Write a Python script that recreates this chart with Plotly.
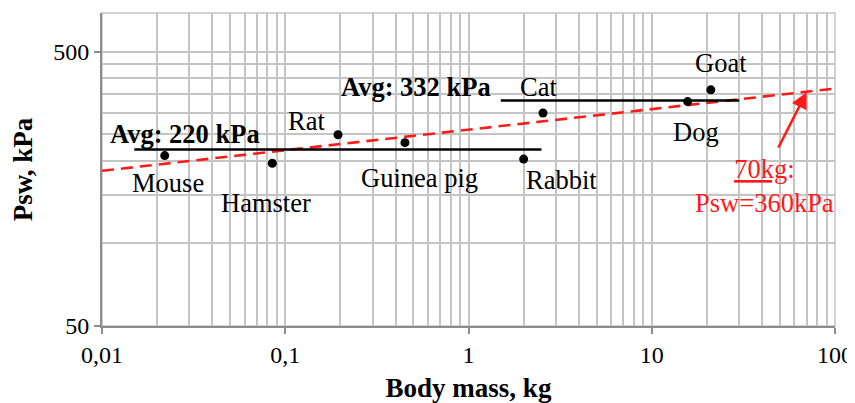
import plotly.graph_objects as go
import math

# ---- data ----
animals = ["Mouse", "Hamster", "Rat", "Guinea pig", "Rabbit", "Cat", "Dog", "Goat"]
body_mass_kg = [0.022, 0.085, 0.194, 0.45, 2.0, 2.55, 15.7, 21.0]
psw_kpa = [209, 196, 249, 233, 203, 299, 329, 363]

avg_small_x = [0.015, 2.5]
avg_small_y = [220, 220]
avg_large_x = [1.5, 30]
avg_large_y = [332, 332]

trend_x = [0.01, 100]
trend_y = [184, 367]

point_70kg = (70, 356)

x_tickvals = [0.01, 0.1, 1, 10, 100]
x_ticktext = ["0,01", "0,1", "1", "10", "100"]
y_tickvals = [50, 500]
y_ticktext = ["50", "500"]
y_minor = [100, 150, 200, 250, 300, 350, 400, 450]
x_minor = [m * d for d in [0.01, 0.1, 1, 10] for m in range(2, 10)]

# label offsets (pixels) relative to points
label_dx = [3, -6, -31, 15, 38, -5, 8, 10]
label_dy = [-27, -40, 14, -35, -21, 26, -30, 27]

FONT = "Liberation Serif, Times New Roman, serif"
GRID = "#c4c4c4"
AXIS = "#8c8c8c"
LBL = 26.5

fig = go.Figure()

fig.add_trace(go.Scatter(x=trend_x, y=trend_y, mode="lines",
                         line=dict(color="#ff1a1a", width=2.6, dash="12px,7px"),
                         hoverinfo="skip", showlegend=False))
fig.add_trace(go.Scatter(x=avg_small_x, y=avg_small_y, mode="lines",
                         line=dict(color="black", width=2.5), showlegend=False))
fig.add_trace(go.Scatter(x=avg_large_x, y=avg_large_y, mode="lines",
                         line=dict(color="black", width=2.5), showlegend=False))
fig.add_trace(go.Scatter(x=body_mass_kg, y=psw_kpa, mode="markers",
                         marker=dict(color="black", size=9), showlegend=False))

for name, x, y, dx, dy in zip(animals, body_mass_kg, psw_kpa, label_dx, label_dy):
    fig.add_annotation(x=math.log10(x), y=math.log10(y), text=name, showarrow=False,
                       xshift=dx, yshift=dy, font=dict(family=FONT, size=LBL, color="black"))

fig.add_annotation(x=math.log10(avg_small_x[0]), y=math.log10(avg_small_y[0]),
                   text="<b>Avg: 220 kPa</b>", showarrow=False, xanchor="left",
                   xshift=-26, yshift=16, font=dict(family=FONT, size=LBL, color="black"))
fig.add_annotation(x=math.log10(avg_large_x[0]), y=math.log10(avg_large_y[0]),
                   text="<b>Avg: 332 kPa</b>", showarrow=False, xanchor="right",
                   xshift=-8, yshift=13, font=dict(family=FONT, size=LBL, color="black"))

# arrow to the 70 kg point
fig.add_annotation(x=math.log10(point_70kg[0]), y=math.log10(point_70kg[1]),
                   ax=-29, ay=57, text="", showarrow=True, arrowhead=2,
                   arrowsize=1.3, arrowwidth=2.5, arrowcolor="#ff1a1a", standoff=0)
fig.add_annotation(x=math.log10(point_70kg[0]), y=math.log10(point_70kg[1]),
                   text="<u>70kg</u>:<br>Psw=360kPa", showarrow=False,
                   xshift=-42, yshift=-94, align="center",
                   font=dict(family=FONT, size=LBL, color="#ff1a1a"))

fig.add_shape(type="rect", xref="x domain", yref="y domain", x0=0, x1=1, y0=0, y1=1,
              line=dict(color=GRID, width=1.5), layer="below")

fig.update_xaxes(type="log", range=[-2, 2], tickmode="array", tickvals=x_tickvals,
                 ticktext=x_ticktext, showgrid=True, gridcolor=GRID, gridwidth=1.5,
                 showline=True, linecolor=AXIS, linewidth=2, ticks="outside",
                 ticklen=6, tickcolor=AXIS, tickwidth=2, zeroline=False, automargin=False,
                 minor=dict(tickmode="array", tickvals=x_minor, showgrid=True,
                            gridcolor=GRID, gridwidth=1.5, ticks=""),
                 tickfont=dict(family=FONT, size=24, color="black"),
                 title=dict(text="<b>Body mass, kg</b>", standoff=20,
                            font=dict(family=FONT, size=27, color="black")))
fig.update_yaxes(type="log", range=[math.log10(50), math.log10(692)], tickmode="array",
                 tickvals=y_tickvals, ticktext=y_ticktext, showgrid=True,
                 gridcolor=GRID, gridwidth=1.5, showline=True, linecolor=AXIS,
                 linewidth=2, ticks="outside", ticklen=6, tickcolor=AXIS, tickwidth=2,
                 zeroline=False, automargin=False,
                 minor=dict(tickmode="array", tickvals=y_minor, showgrid=True,
                            gridcolor=GRID, gridwidth=1.5, ticks=""),
                 tickfont=dict(family=FONT, size=24, color="black"),
                 title=dict(text="<b>Psw, kPa</b>", standoff=24,
                            font=dict(family=FONT, size=27, color="black")))

# the page body has an 8px margin; size the figure to fit the 855x403 window
fig.update_layout(width=847, height=395, margin=dict(l=94, r=20, t=5, b=77),
                  plot_bgcolor="white", paper_bgcolor="white", showlegend=False)

fig.write_html("out.html")
